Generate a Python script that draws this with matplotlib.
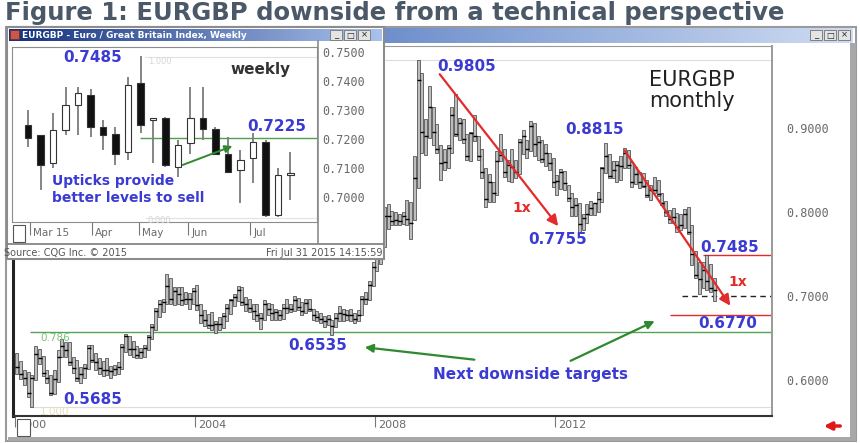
import numpy as np
import matplotlib.pyplot as plt
from matplotlib.patches import Rectangle
from matplotlib.colors import LinearSegmentedColormap

plt.rcParams['font.family'] = ['DejaVu Sans']

# -----------------------------
# Monthly EURGBP, Jan 2000 - Jul 2015 (one row per year)
# -----------------------------
m_high = [
    0.632, 0.623, 0.612, 0.610, 0.606, 0.640, 0.637, 0.629, 0.612, 0.606, 0.612, 0.636,
    0.649, 0.645, 0.645, 0.628, 0.624, 0.615, 0.619, 0.642, 0.642, 0.632, 0.626, 0.623,
    0.626, 0.617, 0.618, 0.621, 0.643, 0.655, 0.653, 0.646, 0.640, 0.638, 0.642, 0.654,
    0.667, 0.686, 0.695, 0.697, 0.726, 0.722, 0.711, 0.711, 0.711, 0.705, 0.703, 0.710,
    0.713, 0.690, 0.683, 0.679, 0.681, 0.670, 0.675, 0.680, 0.690, 0.697, 0.702, 0.712,
    0.711, 0.699, 0.697, 0.690, 0.690, 0.680, 0.695, 0.692, 0.690, 0.685, 0.683, 0.690,
    0.696, 0.691, 0.700, 0.698, 0.693, 0.696, 0.696, 0.685, 0.682, 0.680, 0.676, 0.678,
    0.672, 0.680, 0.688, 0.684, 0.683, 0.684, 0.680, 0.683, 0.700, 0.705, 0.718, 0.740,
    0.755, 0.766, 0.806, 0.810, 0.801, 0.800, 0.797, 0.800, 0.814, 0.812, 0.867, 0.9805,
    0.965, 0.910, 0.950, 0.925, 0.905, 0.880, 0.875, 0.880, 0.925, 0.940, 0.912, 0.910,
    0.893, 0.895, 0.915, 0.890, 0.875, 0.852, 0.845, 0.835, 0.873, 0.893, 0.875, 0.862,
    0.875, 0.862, 0.887, 0.897, 0.885, 0.908, 0.906, 0.890, 0.886, 0.881, 0.870, 0.864,
    0.844, 0.851, 0.849, 0.832, 0.823, 0.816, 0.811, 0.798, 0.809, 0.813, 0.811, 0.824,
    0.853, 0.8815, 0.869, 0.860, 0.860, 0.867, 0.8765, 0.874, 0.859, 0.854, 0.847, 0.846,
    0.838, 0.832, 0.841, 0.838, 0.823, 0.813, 0.802, 0.805, 0.799, 0.797, 0.804, 0.806,
    0.784, 0.754, 0.741, 0.741, 0.7485, 0.738, 0.722,
]
m_low = [
    0.607, 0.601, 0.594, 0.580, 0.5685, 0.600, 0.619, 0.605, 0.596, 0.582, 0.583, 0.598,
    0.627, 0.627, 0.618, 0.608, 0.599, 0.596, 0.603, 0.613, 0.621, 0.612, 0.607, 0.605,
    0.606, 0.603, 0.606, 0.607, 0.613, 0.634, 0.630, 0.628, 0.626, 0.626, 0.628, 0.636,
    0.649, 0.660, 0.675, 0.681, 0.690, 0.690, 0.689, 0.690, 0.689, 0.690, 0.684, 0.690,
    0.683, 0.668, 0.664, 0.662, 0.660, 0.656, 0.660, 0.662, 0.670, 0.679, 0.688, 0.694,
    0.689, 0.682, 0.681, 0.673, 0.670, 0.661, 0.672, 0.678, 0.672, 0.672, 0.671, 0.673,
    0.680, 0.681, 0.682, 0.683, 0.678, 0.680, 0.682, 0.671, 0.670, 0.668, 0.663, 0.665,
    0.6535, 0.663, 0.670, 0.670, 0.672, 0.670, 0.668, 0.670, 0.677, 0.690, 0.695, 0.712,
    0.730, 0.738, 0.758, 0.780, 0.784, 0.784, 0.785, 0.786, 0.785, 0.768, 0.790, 0.828,
    0.870, 0.868, 0.888, 0.880, 0.870, 0.838, 0.850, 0.852, 0.870, 0.890, 0.885, 0.882,
    0.862, 0.860, 0.884, 0.862, 0.840, 0.806, 0.812, 0.812, 0.820, 0.860, 0.842, 0.837,
    0.835, 0.840, 0.845, 0.869, 0.864, 0.873, 0.866, 0.862, 0.859, 0.855, 0.850, 0.830,
    0.820, 0.827, 0.826, 0.813, 0.795, 0.795, 0.7755, 0.779, 0.787, 0.796, 0.796, 0.800,
    0.812, 0.846, 0.840, 0.840, 0.836, 0.838, 0.852, 0.852, 0.830, 0.833, 0.829, 0.830,
    0.818, 0.814, 0.822, 0.819, 0.808, 0.795, 0.787, 0.787, 0.776, 0.779, 0.781, 0.774,
    0.737, 0.721, 0.702, 0.710, 0.707, 0.705, 0.6935,
]
m_close = [
    0.615, 0.607, 0.603, 0.585, 0.602, 0.631, 0.626, 0.609, 0.603, 0.585, 0.601, 0.628,
    0.641, 0.636, 0.622, 0.614, 0.602, 0.607, 0.614, 0.638, 0.624, 0.622, 0.614, 0.612,
    0.612, 0.611, 0.613, 0.616, 0.639, 0.652, 0.637, 0.637, 0.630, 0.634, 0.638, 0.651,
    0.663, 0.682, 0.690, 0.693, 0.712, 0.697, 0.706, 0.702, 0.695, 0.697, 0.697, 0.706,
    0.689, 0.678, 0.671, 0.665, 0.666, 0.667, 0.667, 0.676, 0.686, 0.695, 0.699, 0.707,
    0.693, 0.690, 0.686, 0.682, 0.677, 0.674, 0.690, 0.684, 0.680, 0.681, 0.677, 0.686,
    0.686, 0.685, 0.695, 0.687, 0.682, 0.692, 0.685, 0.678, 0.675, 0.673, 0.670, 0.673,
    0.664, 0.674, 0.680, 0.679, 0.677, 0.677, 0.673, 0.678, 0.697, 0.697, 0.713, 0.735,
    0.746, 0.763, 0.795, 0.795, 0.789, 0.790, 0.789, 0.795, 0.791, 0.787, 0.840, 0.957,
    0.895, 0.890, 0.925, 0.895, 0.875, 0.858, 0.859, 0.876, 0.915, 0.893, 0.906, 0.887,
    0.867, 0.894, 0.890, 0.866, 0.847, 0.815, 0.835, 0.822, 0.860, 0.868, 0.847, 0.856,
    0.853, 0.848, 0.883, 0.890, 0.875, 0.902, 0.881, 0.883, 0.863, 0.870, 0.858, 0.835,
    0.837, 0.847, 0.834, 0.816, 0.806, 0.808, 0.786, 0.793, 0.797, 0.805, 0.811, 0.815,
    0.852, 0.866, 0.843, 0.850, 0.856, 0.855, 0.870, 0.856, 0.835, 0.845, 0.836, 0.831,
    0.820, 0.826, 0.826, 0.821, 0.811, 0.800, 0.792, 0.794, 0.782, 0.785, 0.798, 0.776,
    0.750, 0.725, 0.720, 0.731, 0.718, 0.710, 0.707,
]
year_ticks = [2000, 2004, 2008, 2012]
price_ticks = [0.6, 0.7, 0.8, 0.9]

# -----------------------------
# Weekly candles, Mar - Jul 2015
# -----------------------------
wk_open = [0.7248, 0.7214, 0.7116, 0.7231, 0.7317, 0.7351, 0.7240, 0.7216, 0.7156, 0.7392, 0.7264,
           0.7274, 0.7104, 0.7185, 0.7271, 0.7233, 0.7150, 0.7093, 0.7133, 0.7190, 0.6938, 0.7076]
wk_high = [0.7300, 0.7214, 0.7288, 0.7380, 0.7380, 0.7374, 0.7265, 0.7242, 0.7415, 0.7485, 0.7268,
           0.7277, 0.7196, 0.7380, 0.7380, 0.7242, 0.7208, 0.7162, 0.7219, 0.7196, 0.7099, 0.7156]
wk_low = [0.7173, 0.7025, 0.7099, 0.7214, 0.7214, 0.7208, 0.7162, 0.7110, 0.7127, 0.7219, 0.7116,
          0.7104, 0.7070, 0.7150, 0.7196, 0.7145, 0.7082, 0.6978, 0.7047, 0.6932, 0.6932, 0.6990]
wk_close = [0.7202, 0.7110, 0.7231, 0.7317, 0.7357, 0.7242, 0.7213, 0.7150, 0.7386, 0.7248, 0.7270,
            0.7110, 0.7179, 0.7274, 0.7236, 0.7150, 0.7087, 0.7127, 0.7190, 0.6938, 0.7076, 0.7082]
wk_month_pos = [0.15, 5.1, 8.9, 12.8, 17.8]
wk_month_lbl = ["Mar 15", "Apr", "May", "Jun", "Jul"]
wk_price_ticks = [0.70, 0.71, 0.72, 0.73, 0.74, 0.75]

BLUE = '#3b3bd4'
RED = '#e32b2b'
GREEN = '#2f8a2f'
GRAYTXT = '#6a6a6a'

fig = plt.figure(figsize=(8.6, 4.43), dpi=100)


def rect(x0, y0, x1, y1):
    return [x0 / 860, 1 - y1 / 443, (x1 - x0) / 860, (y1 - y0) / 443]


def pixel_layer(z):
    a = fig.add_axes([0, 0, 1, 1], zorder=z)
    a.patch.set_visible(False)
    a.axis('off')
    return a


def title_bar(a, x0, x1, y0, y1, c0, c1):
    cmap = LinearSegmentedColormap.from_list('tb', [c0, c1])
    a.imshow(np.linspace(0, 1, 256).reshape(1, -1), cmap=cmap, aspect='auto',
             extent=(x0, x1, y1, y0), zorder=2)


def buttons(a, x0, y0):
    for k, s in enumerate(['_', '□', '×']):
        a.add_patch(Rectangle((x0 + k * 14, y0), 12, 10, fc='#e4e4e4', ec='#808080', lw=0.7, zorder=3))
        a.text(x0 + k * 14 + 6, y0 + 5, s, fontsize=6, ha='center', va='center', color='#222', zorder=4)


# -----------------------------
# Background: title and main window
# -----------------------------
fig.text(5 / 860, 1 - 13 / 443, "Figure 1: EURGBP downside from a technical perspective",
         fontsize=17.5, fontweight='bold', color='#4a5868', va='center', ha='left')

bg = pixel_layer(0)
bg.add_patch(Rectangle((6, 27), 850, 414, fc='white', ec='#9a9a9a', lw=1.5))
title_bar(bg, 383, 853, 28, 43, '#6e8fcc', '#cfdcf2')
buttons(bg, 810, 30)
bg.add_patch(Rectangle((850, 43), 6, 397, fc='#a8a8a8', ec='none'))
bg.add_patch(Rectangle((8, 437), 848, 4, fc='#a8a8a8', ec='none'))
bg.annotate('', xy=(821, 426), xytext=(843, 426),
            arrowprops=dict(arrowstyle='-|>', color='#e01818', lw=2.5, mutation_scale=11))
bg.set_xlim(0, 860)
bg.set_ylim(443, 0)

# -----------------------------
# Main monthly chart
# -----------------------------
ax = fig.add_axes(rect(13, 46, 772, 416), zorder=1)
X0, X1 = 1999.956, 2016.822
ax.set_xlim(X0, X1)
ax.set_ylim(0.5573, 0.9973)

x = 2000 + (np.arange(len(m_close)) + 0.5) / 12
ax.bar(x, np.array(m_high) - np.array(m_low), bottom=m_low, width=0.07,
       color='#bdbdbd', edgecolor='#3a3a3a', linewidth=0.5, zorder=3)
ax.hlines(m_close, x - 0.035, x + 0.055, color='black', lw=1.0, zorder=4)

# fibonacci and target levels
ax.hlines(0.9805, 2008.22, X1, color='#dcdcdc', lw=0.8, zorder=1)
ax.hlines(0.5685, 2000.33, X1, color='#dcdcdc', lw=0.8, zorder=1)
ax.hlines(0.6567, 2000.33, X1, color='#55a455', lw=1.0, zorder=2)
ax.hlines(0.7485, 2015.29, X1, color=RED, lw=1.0, zorder=2)
ax.hlines(0.6770, 2014.56, X1, color=RED, lw=1.0, zorder=2)
ax.hlines(0.7000, 2014.82, X1, color='#222222', lw=1.0, linestyles=(0, (4, 3)), zorder=2)

# measured moves
ax.annotate('', xy=(2012.11, 0.7805), xytext=(2009.40, 0.9664),
            arrowprops=dict(arrowstyle='-|>', color=RED, lw=1.6, mutation_scale=16), zorder=5)
ax.annotate('', xy=(2015.93, 0.6857), xytext=(2013.51, 0.8760),
            arrowprops=dict(arrowstyle='-|>', color=RED, lw=1.6, mutation_scale=16), zorder=5)
ax.annotate('', xy=(2007.71, 0.6394), xytext=(2010.27, 0.6239),
            arrowprops=dict(arrowstyle='-|>', color=GREEN, lw=1.6, mutation_scale=12), zorder=5)
ax.annotate('', xy=(2014.27, 0.6715), xytext=(2012.29, 0.6215),
            arrowprops=dict(arrowstyle='-|>', color=GREEN, lw=1.6, mutation_scale=12), zorder=5)

ax.yaxis.tick_right()
ax.set_yticks(price_ticks)
ax.set_yticklabels([f"{v:.4f}" for v in price_ticks], family='DejaVu Sans Mono',
                   fontsize=8.5, color=GRAYTXT)
ax.tick_params(axis='y', length=0, pad=10)
ax.set_xticks(year_ticks)
ax.set_xticklabels([])
ax.tick_params(axis='x', length=8, width=0.8, color='#777777', direction='out')
for yr in year_ticks:
    ax.text(yr + 0.08, -0.025, str(yr), transform=ax.get_xaxis_transform(),
            fontsize=8, color=GRAYTXT, ha='left', va='center')
for s in ['top', 'right']:
    ax.spines[s].set_color('#9a9a9a')
ax.spines['right'].set_linewidth(1.4)
ax.spines['left'].set_color('#222222')
ax.spines['left'].set_linewidth(2.2)
ax.spines['bottom'].set_color('#333333')
ax.spines['bottom'].set_linewidth(1.5)

# -----------------------------
# Inset window chrome
# -----------------------------
ch = pixel_layer(2)
ch.add_patch(Rectangle((7, 27), 377, 232, fc='white', ec='#8c8c8c', lw=1.5))
title_bar(ch, 9, 382, 29, 41, '#14307e', '#a9c2ec')
ch.add_patch(Rectangle((10, 30), 9, 9, fc='#c8584a', ec='#7a2a20', lw=0.5, zorder=3))
ch.text(22, 35, "EURGBP - Euro / Great Britain Index, Weekly", fontsize=6.5,
        fontweight='bold', color='white', va='center', ha='left', zorder=4)
buttons(ch, 330, 30)
ch.plot([8, 383], [244, 244], color='#7c7c7c', lw=1.2)
ch.plot([318, 318], [41, 244], color='#8c8c8c', lw=1.2)
ch.add_patch(Rectangle((13, 225), 12, 17, fc='white', ec='#555555', lw=0.8, zorder=3))
ch.add_patch(Rectangle((17, 419), 13, 17, fc='white', ec='#555555', lw=0.8, zorder=3))
ch.text(4, 253, "Source: CQG Inc. \u00a9 2015", fontsize=7, color='#555555', va='center', ha='left')
ch.text(383, 253, "Fri Jul 31 2015 14:15:59", fontsize=7, color='#555555', va='center', ha='right')
ch.set_xlim(0, 860)
ch.set_ylim(443, 0)

# -----------------------------
# Inset weekly candles
# -----------------------------
ax2 = fig.add_axes(rect(12, 47, 317, 222), zorder=3)
W0, W1 = -1.28, 23.12
ax2.set_xlim(W0, W1)
ax2.set_ylim(0.6914, 0.7517)
wx = np.arange(len(wk_close))
wo = np.array(wk_open)
wc = np.array(wk_close)
ax2.vlines(wx, wk_low, wk_high, color='#7c7c7c', lw=1.3, zorder=2)
body = np.maximum(np.abs(wc - wo), 0.0007)
colors = ['#111111' if c < o else 'white' for o, c in zip(wo, wc)]
ax2.bar(wx, body, bottom=np.minimum(wo, wc), width=0.55, color=colors,
        edgecolor='#333333', linewidth=0.8, zorder=3)
ax2.hlines(0.7204, 8.96, W1, color='#4f9f4f', lw=1.0, zorder=1)
ax2.hlines([0.7483, 0.6928], 9.36, W1, color='#e2e2e2', lw=0.8, zorder=1)
ax2.text(9.6, 0.7468, "1.000", fontsize=6, color='#d6d6d6', va='center')
ax2.text(9.6, 0.6918, "0.000", fontsize=6, color='#d6d6d6', va='center')
ax2.annotate('', xy=(16.56, 0.7179), xytext=(12.16, 0.7107),
             arrowprops=dict(arrowstyle='-|>', color=GREEN, lw=1.4, mutation_scale=11), zorder=5)

ax2.yaxis.tick_right()
ax2.set_yticks(wk_price_ticks)
ax2.set_yticklabels([f"{v:.4f}" for v in wk_price_ticks], family='DejaVu Sans Mono',
                    fontsize=8.5, color=GRAYTXT)
ax2.tick_params(axis='y', length=0, pad=4)
ax2.set_xticks(wk_month_pos)
ax2.set_xticklabels([])
ax2.tick_params(axis='x', length=9, width=0.8, color='#777777', direction='out')
for p, lbl in zip(wk_month_pos, wk_month_lbl):
    ax2.text(p + 0.25, -0.065, lbl, transform=ax2.get_xaxis_transform(),
             fontsize=7.5, color=GRAYTXT, ha='left', va='center')
for s in ax2.spines.values():
    s.set_color('#8c8c8c')

# -----------------------------
# Annotation text layer
# -----------------------------
tx = pixel_layer(4)
blue_labels = [
    ("0.7485", 63, 57), ("0.7225", 247, 126), ("0.9805", 437, 66), ("0.8815", 565, 129),
    ("0.7755", 528, 239), ("0.7485", 700, 247), ("0.6770", 698, 324), ("0.6535", 288, 345),
    ("0.5685", 63, 399),
]
for s, px, py in blue_labels:
    tx.text(px, py, s, fontsize=11, fontweight='bold', color=BLUE, va='center', ha='left')
tx.text(52, 181, "Upticks provide", fontsize=10, fontweight='bold', color=BLUE, va='center')
tx.text(52, 198, "better levels to sell", fontsize=10, fontweight='bold', color=BLUE, va='center')
tx.text(433, 375, "Next downside targets", fontsize=11, fontweight='bold', color=BLUE, va='center')
tx.text(230, 69, "weekly", fontsize=11, fontweight='bold', color='#333333', va='center')
tx.text(649, 80, "EURGBP", fontsize=15, color='#222222', va='center')
tx.text(649, 101, "monthly", fontsize=15, color='#222222', va='center')
tx.text(512, 208, "1x", fontsize=10, fontweight='bold', color=RED, va='center')
tx.text(728, 282, "1x", fontsize=10, fontweight='bold', color=RED, va='center')
tx.text(40, 338, "0.786", fontsize=7.5, color='#7fbf7f', va='center')
tx.text(40, 412, "1.000", fontsize=7.5, color='#e6dcc0', va='center')
tx.set_xlim(0, 860)
tx.set_ylim(443, 0)

fig.savefig("out.png", dpi=100)
